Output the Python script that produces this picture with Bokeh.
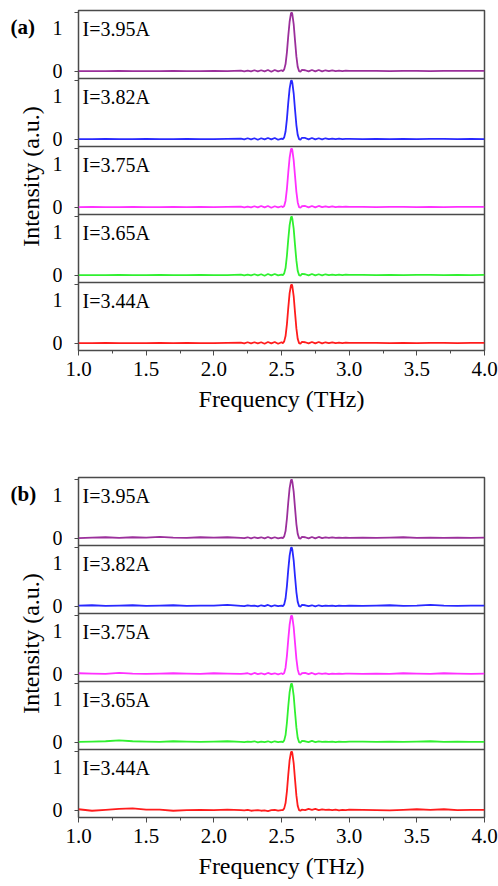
import math
from bokeh.plotting import figure
from bokeh.models import Range1d, FixedTicker, Label, Span
from bokeh.layouts import column, row
from bokeh.core.properties import value
from bokeh.embed import file_html
from bokeh.resources import INLINE

# ---------------- data ----------------
freq = [1.0, 1.1, 1.2, 1.3, 1.4, 1.5, 1.6, 1.7, 1.8, 1.9, 2.0, 2.1, 2.2,
        2.225, 2.25, 2.275, 2.3, 2.325, 2.35, 2.375, 2.4, 2.425, 2.45, 2.475, 2.5,
        2.51, 2.52, 2.53, 2.54, 2.55, 2.56, 2.57, 2.575, 2.58, 2.59, 2.60, 2.61, 2.62, 2.63, 2.64, 2.65,
        2.675, 2.7, 2.725, 2.75, 2.775, 2.8, 2.825, 2.85, 2.875, 2.9, 2.925, 2.95, 2.975, 3.0,
        3.1, 3.2, 3.3, 3.4, 3.5, 3.6, 3.7, 3.8, 3.9, 4.0]

currents = ["I=3.95A", "I=3.82A", "I=3.75A", "I=3.65A", "I=3.44A"]
colors = ["#9b2f9b", "#2828ff", "#ff30ff", "#30f030", "#ff1c1c"]

# panel (a)
a_395 = [0.0, 0.0, 0.0, 0.005, 0.0, 0.0, 0.0, 0.005, 0.0, 0.0, 0.005, 0.0, 0.01,
         -0.005, 0.01, -0.005, 0.015, -0.005, 0.015, -0.005, 0.02, -0.01, 0.02, -0.005, 0.015,
         0.0, 0.03, 0.12, 0.32, 0.6, 0.84, 0.98, 1.0, 0.97, 0.8, 0.52, 0.25, 0.07, 0.0, -0.01, 0.02,
         0.015, -0.005, 0.02, -0.005, 0.02, -0.005, 0.015, 0.0, 0.015, 0.0, 0.01, 0.0, 0.01, 0.005,
         0.005, 0.005, 0.0, 0.005, 0.005, 0.0, 0.005, 0.005, 0.005, 0.005]
a_382 = [0.0, 0.0, 0.005, 0.0, 0.0, 0.005, 0.0, 0.0, 0.005, 0.0, 0.0, 0.005, 0.01,
         -0.005, 0.015, -0.005, 0.015, -0.01, 0.015, -0.005, 0.02, -0.005, 0.02, -0.01, 0.01,
         0.0, 0.03, 0.13, 0.34, 0.62, 0.86, 0.99, 1.0, 0.96, 0.78, 0.5, 0.24, 0.07, 0.0, -0.01, 0.02,
         0.02, -0.005, 0.02, -0.005, 0.015, -0.005, 0.015, 0.0, 0.01, 0.0, 0.01, 0.0, 0.005, 0.005,
         0.0, 0.005, 0.0, 0.005, 0.0, 0.005, 0.005, 0.0, 0.005, 0.0]
a_375 = [0.0, 0.005, 0.0, 0.0, 0.005, 0.0, 0.0, 0.005, 0.0, 0.005, 0.0, 0.005, 0.01,
         -0.005, 0.01, -0.005, 0.015, -0.005, 0.02, -0.005, 0.02, -0.01, 0.015, -0.005, 0.015,
         0.0, 0.02, 0.11, 0.31, 0.59, 0.84, 0.98, 1.0, 0.97, 0.8, 0.53, 0.26, 0.08, 0.0, -0.01, 0.015,
         0.02, -0.005, 0.02, -0.005, 0.02, 0.0, 0.015, 0.0, 0.015, 0.0, 0.01, 0.005, 0.01, 0.005,
         0.005, 0.0, 0.005, 0.005, 0.0, 0.005, 0.0, 0.005, 0.005, 0.005]
a_365 = [0.0, 0.0, 0.0, 0.005, 0.0, 0.0, 0.005, 0.0, 0.0, 0.005, 0.0, 0.0, 0.01,
         -0.005, 0.01, -0.005, 0.015, -0.005, 0.015, -0.01, 0.02, -0.005, 0.02, -0.005, 0.01,
         0.0, 0.03, 0.12, 0.33, 0.61, 0.85, 0.98, 1.0, 0.96, 0.79, 0.51, 0.25, 0.07, 0.0, -0.01, 0.02,
         0.015, -0.005, 0.02, -0.005, 0.015, -0.005, 0.015, 0.0, 0.01, 0.0, 0.01, 0.0, 0.01, 0.005,
         0.005, 0.0, 0.005, 0.0, 0.005, 0.005, 0.0, 0.005, 0.0, 0.005]
a_344 = [0.0, 0.0, 0.005, 0.0, 0.0, 0.0, 0.005, 0.0, 0.005, 0.0, 0.0, 0.005, 0.01,
         -0.005, 0.015, -0.005, 0.015, -0.005, 0.015, -0.01, 0.02, -0.005, 0.02, -0.01, 0.015,
         0.0, 0.03, 0.12, 0.32, 0.6, 0.85, 0.98, 1.0, 0.97, 0.8, 0.52, 0.25, 0.07, 0.0, -0.01, 0.02,
         0.015, -0.005, 0.02, -0.005, 0.02, -0.005, 0.015, 0.0, 0.015, 0.0, 0.01, 0.0, 0.01, 0.005,
         0.005, 0.005, 0.0, 0.005, 0.0, 0.005, 0.005, 0.0, 0.005, 0.005]

# panel (b)
b_395 = [0.0, 0.01, 0.015, 0.005, 0.015, 0.01, 0.02, 0.01, 0.005, 0.015, 0.01, 0.015, 0.005,
         0.0, 0.015, -0.005, 0.015, 0.0, 0.015, -0.005, 0.02, -0.005, 0.015, -0.005, 0.01,
         0.0, 0.03, 0.12, 0.33, 0.61, 0.85, 0.98, 1.0, 0.96, 0.79, 0.51, 0.24, 0.07, 0.0, -0.01, 0.02,
         0.015, -0.005, 0.02, -0.005, 0.02, 0.0, 0.015, 0.005, 0.015, 0.005, 0.01, 0.005, 0.01, 0.005,
         0.01, 0.005, 0.01, 0.015, 0.005, 0.01, 0.005, 0.01, 0.005, 0.01]
b_382 = [0.01, 0.015, 0.005, 0.01, 0.015, 0.005, 0.01, 0.015, 0.005, 0.01, 0.01, 0.02, 0.005,
         0.0, 0.015, 0.005, 0.01, -0.005, 0.015, 0.0, 0.02, -0.005, 0.015, 0.0, 0.01,
         0.0, 0.03, 0.13, 0.34, 0.62, 0.86, 0.99, 1.0, 0.96, 0.78, 0.5, 0.24, 0.07, 0.0, -0.01, 0.02,
         0.015, 0.0, 0.015, -0.005, 0.015, 0.0, 0.01, 0.005, 0.01, 0.0, 0.01, 0.005, 0.005, 0.01,
         0.005, 0.01, 0.015, 0.005, 0.01, 0.02, 0.01, 0.005, 0.01, 0.01]
b_375 = [0.015, 0.01, 0.005, 0.02, 0.01, 0.005, 0.01, 0.015, 0.01, 0.005, 0.015, 0.01, 0.005,
         0.01, 0.015, -0.005, 0.02, 0.0, 0.015, -0.005, 0.02, 0.0, 0.015, -0.005, 0.015,
         0.0, 0.02, 0.11, 0.31, 0.59, 0.84, 0.98, 1.0, 0.97, 0.8, 0.53, 0.26, 0.08, 0.0, -0.01, 0.015,
         0.02, 0.0, 0.02, -0.005, 0.015, 0.005, 0.015, 0.0, 0.01, 0.005, 0.01, 0.005, 0.01, 0.01,
         0.005, 0.01, 0.005, 0.015, 0.01, 0.005, 0.015, 0.01, 0.005, 0.01]
b_365 = [0.005, 0.01, 0.015, 0.03, 0.015, 0.01, 0.005, 0.015, 0.01, 0.005, 0.01, 0.015, 0.005,
         0.0, 0.01, 0.005, 0.015, -0.005, 0.01, 0.0, 0.015, -0.005, 0.015, 0.0, 0.01,
         0.0, 0.03, 0.12, 0.33, 0.61, 0.85, 0.98, 1.0, 0.96, 0.79, 0.51, 0.25, 0.07, 0.0, -0.01, 0.02,
         0.015, 0.0, 0.02, 0.0, 0.015, 0.005, 0.01, 0.005, 0.01, 0.0, 0.01, 0.005, 0.005, 0.01,
         0.01, 0.005, 0.01, 0.005, 0.01, 0.015, 0.005, 0.01, 0.005, 0.005]
b_344 = [0.015, -0.01, 0.005, 0.02, 0.03, 0.01, 0.01, -0.01, 0.0, 0.005, 0.0, 0.01, 0.0,
         -0.005, 0.005, -0.01, -0.005, 0.0, -0.01, -0.005, -0.015, 0.0, 0.005, -0.01, 0.0,
         0.0, 0.03, 0.12, 0.32, 0.6, 0.85, 0.98, 1.0, 0.97, 0.8, 0.52, 0.25, 0.07, 0.0, -0.01, 0.01,
         0.0, 0.02, 0.005, 0.02, 0.0, 0.015, 0.005, 0.01, 0.0, 0.01, -0.005, 0.005, 0.0, 0.01,
         0.005, 0.0, -0.005, 0.005, 0.015, 0.005, 0.015, 0.0, 0.005, 0.005]

panel_a = [a_395, a_382, a_375, a_365, a_344]
panel_b = [b_395, b_382, b_375, b_365, b_344]

x_ticks = [1.0, 1.5, 2.0, 2.5, 3.0, 3.5, 4.0]
x_minor = [1.25, 1.75, 2.25, 2.75, 3.25, 3.75]
x_tick_labels = ["1.0", "1.5", "2.0", "2.5", "3.0", "3.5", "4.0"]
y_tick_values = [0, 1]
y_tick_labels = ["0", "1"]

# ---------------- layout constants ----------------
FONT = "Liberation Serif"
STRIP_W = 62          # left strip: y tick labels, panel tag, y title
MAIN_W = 498 - STRIP_W
FRAME_W = 406
FRAME_H = 340
MAIN_LEFT = 78 - STRIP_W
N = len(currents)
LO, HI = -0.125, 1.03125
H = HI - LO
PX = FRAME_H / (N * H)      # pixels per intensity unit
AXIS_COL = "#4a4a4a"
TICK_Y = [k * H + v for k in range(N) for v in y_tick_values]


def left_strip(tag, top, bottom):
    s = figure(width=STRIP_W, height=top + FRAME_H + bottom, output_backend="svg",
               toolbar_location=None, x_axis_location=None, y_axis_location=None,
               x_range=Range1d(0, STRIP_W), y_range=Range1d(LO, LO + N * H),
               min_border_left=0, min_border_right=0,
               min_border_top=top, min_border_bottom=bottom)
    s.grid.visible = False
    s.outline_line_color = None
    ymax = LO + N * H
    lab_y = [k * H + (0.01 if v == 0 else 0.742) for k in range(N) for v in y_tick_values]
    lab_t = [y_tick_labels[j] for k in range(N) for j in range(len(y_tick_values))]
    s.text(x=[STRIP_W] * len(lab_y), y=lab_y, text=lab_t,
           text_font=value(FONT), text_font_size="20px", text_align="right",
           text_baseline="alphabetic", text_color="black")
    s.text(x=[10], y=[ymax - 16 / PX], text=[tag], text_font=value(FONT),
           text_font_size="21px", text_font_style="bold",
           text_baseline="alphabetic", text_color="black")
    s.text(x=[30], y=[LO + N * H / 2 + 4 / PX], text=["Intensity (a.u.)"],
           angle=math.pi / 2, text_font=value(FONT), text_font_size="24px",
           text_align="center", text_baseline="alphabetic", text_color="black")
    return s


def main_panel(series, top, bottom):
    p = figure(width=MAIN_W, height=top + FRAME_H + bottom, output_backend="svg",
               toolbar_location=None,
               x_range=Range1d(1.0, 4.0), y_range=Range1d(LO, LO + N * H),
               min_border_left=MAIN_LEFT, min_border_right=MAIN_W - MAIN_LEFT - FRAME_W,
               min_border_top=top, min_border_bottom=bottom)
    p.grid.visible = False
    p.outline_line_color = AXIS_COL
    p.outline_line_width = 1.5

    xa = p.xaxis[0]
    xa.ticker = FixedTicker(ticks=x_ticks, minor_ticks=x_minor)
    xa.major_label_overrides = dict(zip(x_ticks, x_tick_labels))
    xa.axis_line_color = None
    xa.major_tick_line_color = AXIS_COL
    xa.minor_tick_line_color = AXIS_COL
    xa.major_tick_in = 0
    xa.major_tick_out = 5
    xa.minor_tick_in = 0
    xa.minor_tick_out = 3
    xa.major_label_standoff = 6
    xa.major_label_text_font = FONT
    xa.major_label_text_font_size = "21px"
    xa.major_label_text_color = "black"
    xa.axis_label = "Frequency (THz)"
    xa.axis_label_text_font = FONT
    xa.axis_label_text_font_size = "24px"
    xa.axis_label_text_font_style = "normal"
    xa.axis_label_text_color = "black"
    xa.axis_label_standoff = 7

    # y axis: only the small outward tick marks at 0 and 1 of every sub-panel
    ya = p.yaxis[0]
    ya.ticker = FixedTicker(ticks=[], minor_ticks=TICK_Y)
    ya.axis_line_color = None
    ya.major_tick_line_color = None
    ya.minor_tick_line_color = AXIS_COL
    ya.minor_tick_in = 0
    ya.minor_tick_out = 4
    ya.major_label_standoff = 0

    for i, (vals, cur, col) in enumerate(zip(series, currents, colors)):
        k = N - 1 - i
        name = f"s{k}"
        p.extra_y_ranges[name] = Range1d(LO - k * H, LO - k * H + N * H)
        p.line(freq, vals, y_range_name=name, line_color=col, line_width=1.8)
        p.add_layout(Label(x=1.03, y=0.71, y_range_name=name, text=cur,
                           text_font=FONT, text_font_size="20px",
                           text_color="black", text_baseline="alphabetic"))
        if k > 0:
            p.add_layout(Span(location=LO + k * H, dimension="width",
                              line_color=AXIS_COL, line_width=1.5))
    return p


TOP_A, BOT_A = 10, 75
TOP_B, BOT_B = 52, 69
panel_a_row = row(left_strip("(a)", TOP_A, BOT_A), main_panel(panel_a, TOP_A, BOT_A), spacing=0)
panel_b_row = row(left_strip("(b)", TOP_B, BOT_B), main_panel(panel_b, TOP_B, BOT_B), spacing=0)

layout = column(panel_a_row, panel_b_row, spacing=0)
open("out.html", "w").write(file_html(layout, INLINE))
